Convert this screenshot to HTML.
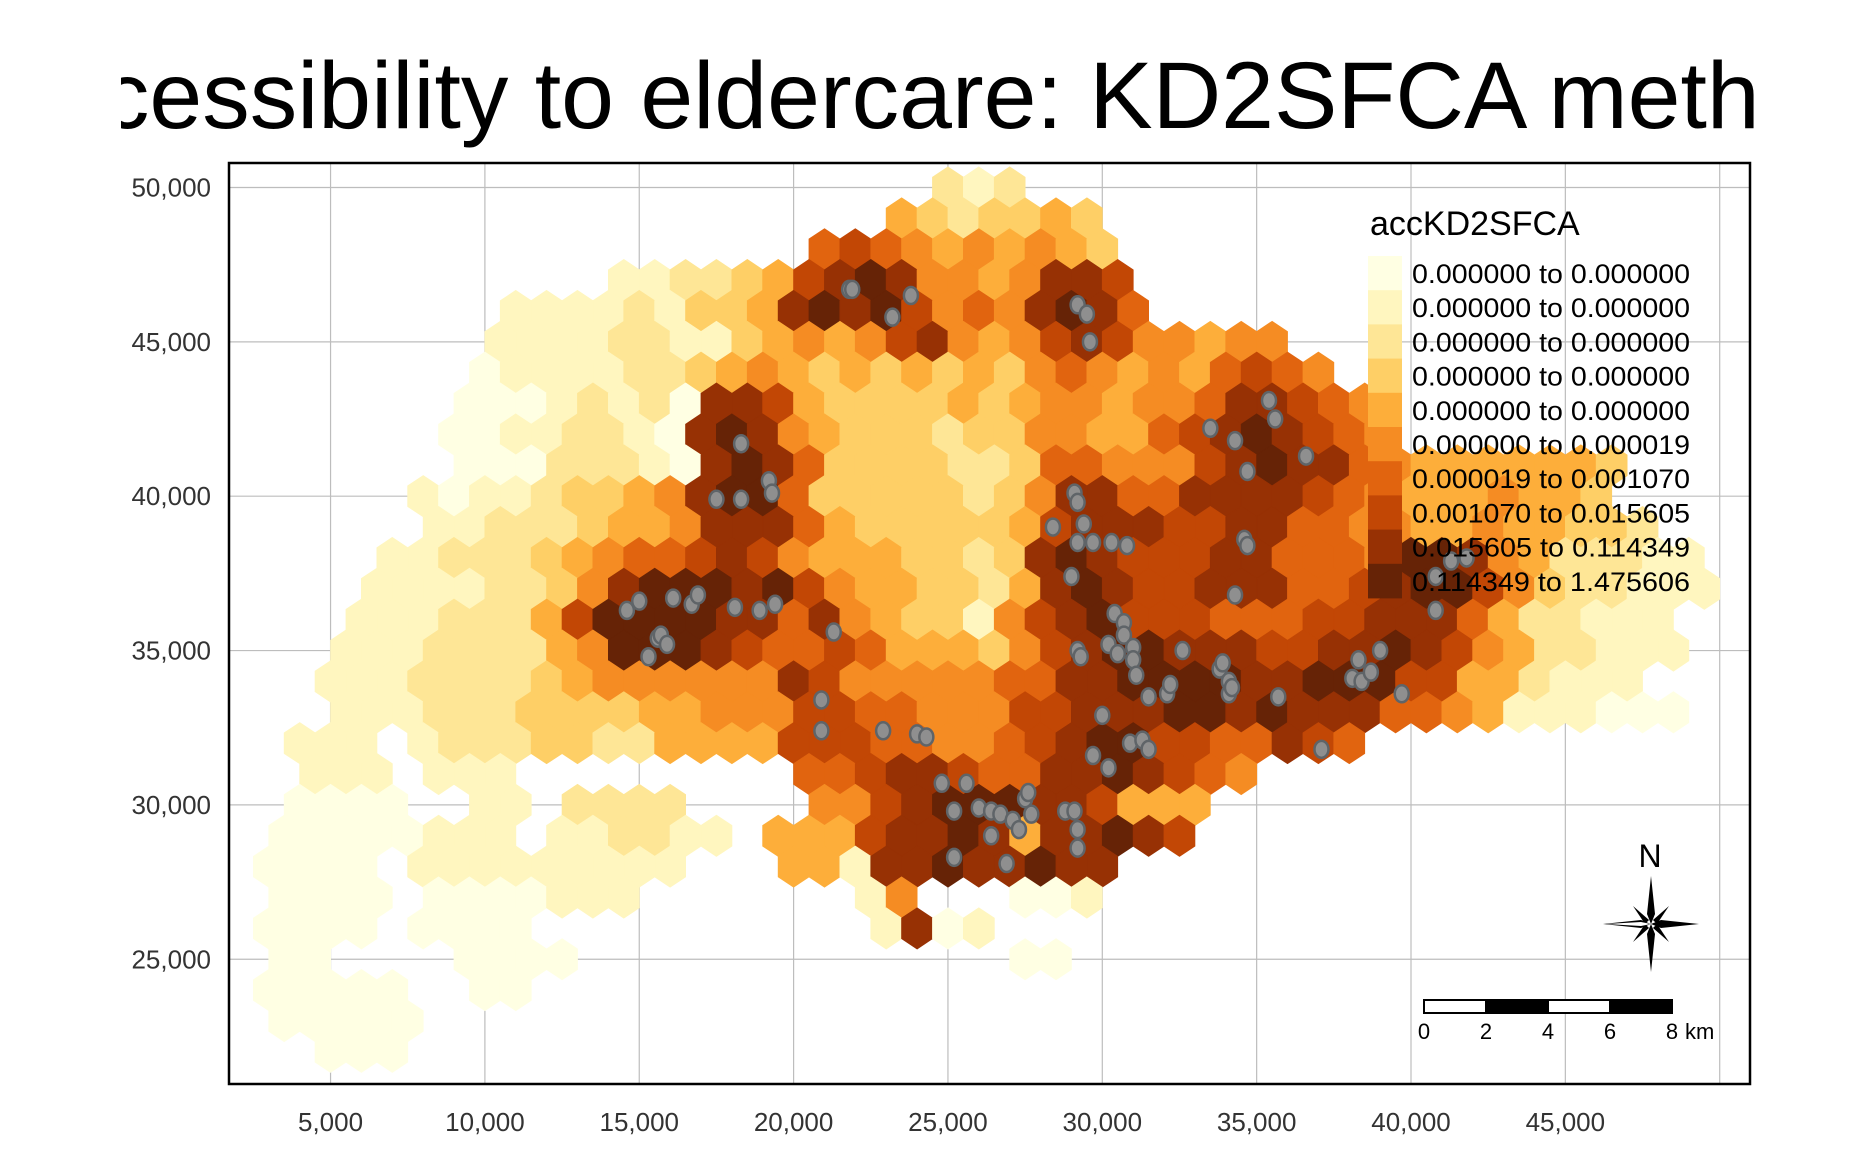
<!DOCTYPE html>
<html><head><meta charset="utf-8"><style>
html,body{margin:0;padding:0;background:#fff;}
svg text{font-family:"Liberation Sans",Arial,sans-serif;}
</style></head><body>
<svg id="chart" xmlns="http://www.w3.org/2000/svg" width="1872" height="1152" viewBox="0 0 1872 1152">
<defs>
<clipPath id="titleClip"><rect x="121" y="0" width="1635" height="160"/></clipPath>
<clipPath id="panelClip"><rect x="229" y="163" width="1521" height="921"/></clipPath>
</defs>
<g clip-path="url(#titleClip)"><text x="-9" y="128" font-size="95" fill="#000">Accessibility to eldercare: KD2SFCA method</text></g>
<g id="grid"></g>
<g id="hexes" clip-path="url(#panelClip)"></g>
<g id="points"></g>
<rect x="229" y="163" width="1521" height="921" fill="none" stroke="#000" stroke-width="2.5"/>
<g id="xaxis"></g>
<g id="yaxis"></g>
<g id="legend">
<text x="1370" y="235" font-size="34" fill="#000">accKD2SFCA</text>
</g>
<g transform="translate(-7,-4)">
<text x="1657" y="871" font-size="32" text-anchor="middle" fill="#000">N</text>
<polygon points="1658,880 1662,918 1658,928 1654,918" fill="#000"/>
<polygon points="1658,976 1662,938 1658,928 1654,938" fill="#000"/>
<polygon points="1610,928 1648,924 1658,928 1648,932" fill="#000"/>
<polygon points="1706,928 1668,924 1658,928 1668,932" fill="#000"/>
<polygon points="1640,910 1656,924 1652,928" fill="#000"/>
<polygon points="1676,910 1660,924 1664,928" fill="#000"/>
<polygon points="1640,946 1656,932 1652,928" fill="#000"/>
<polygon points="1676,946 1660,932 1664,928" fill="#000"/>
<polygon points="1613,928 1648,926 1658,928 1648,930" fill="#fff"/>
</g>
<g transform="translate(-7,-2)">
<rect x="1431" y="1002" width="62" height="13" fill="#fff" stroke="#000" stroke-width="2"/>
<rect x="1493" y="1002" width="62" height="13" fill="#000" stroke="#000" stroke-width="2"/>
<rect x="1555" y="1002" width="62" height="13" fill="#fff" stroke="#000" stroke-width="2"/>
<rect x="1617" y="1002" width="62" height="13" fill="#000" stroke="#000" stroke-width="2"/>
<text x="1431" y="1041" font-size="22" text-anchor="middle">0</text>
<text x="1493" y="1041" font-size="22" text-anchor="middle">2</text>
<text x="1555" y="1041" font-size="22" text-anchor="middle">4</text>
<text x="1617" y="1041" font-size="22" text-anchor="middle">6</text>
<text x="1679" y="1041" font-size="22" text-anchor="middle">8</text>
<text x="1692" y="1041" font-size="22">km</text>
</g>
</svg>
<script>
const classLabels = ["0.000000 to 0.000000","0.000000 to 0.000000","0.000000 to 0.000000","0.000000 to 0.000000","0.000000 to 0.000000","0.000000 to 0.000019","0.000019 to 0.001070","0.001070 to 0.015605","0.015605 to 0.114349","0.114349 to 1.475606"];
const classColors = ["#FFFFE3","#FFF6BF","#FEE696","#FECF66","#FDAE3A","#F58C23","#E1640F","#C24705","#973104","#662306"];
const xTicks = [5000,10000,15000,20000,25000,30000,35000,40000,45000];
const xGrid = [5000,10000,15000,20000,25000,30000,35000,40000,45000,50000];
const yTicks = [25000,30000,35000,40000,45000,50000];
const hexX0 = 3000;
const hexStep = 1000;
const hexRowsY = [50000,49000,48000,47000,46000,45000,44000,43000,42000,41000,40000,39000,38000,37000,36000,35000,34000,33000,32000,31000,30000,29000,28000,27000,26000,25000,24000,23000,22000];
const hexRows = [
"......................212......................",
"....................4323343....................",
"..................6765454543...................",
"...........11223478985545887...................",
"........111121334898975658986..................",
".......11112211345457854578755455..............",
".......0111122345434343435654546765............",
"......000121208874333343455455688765...........",
"......0011221089854333233554467898765..........",
"......00022210898633332236655578988654444443...",
".....101123345899633333235886688887654445443...",
".....1122234458886433333478887788665544544332..",
"....1122234566787544433238987778866659985422211",
"...11112235899989754433248987788866789975322111",
"...1112224799998868543315789777666778886422111.",
"..11122224599987667644435789988877889875422111.",
"..1112222345555558755555668899998899977442111..",
"..11122233334455577665557788899898886654111000.",
".111.1222332244447776655678997766876...........",
".111.111.........667887668898765...............",
".0000..11.2222....5578999887444................",
"00000111.112211.44478898488987.................",
"0000.111111111...44188988988...................",
"0000.0000111.......15...001....................",
"0000.0000...........1801.......................",
"00....0000..............00.....................",
"00000..00......................................",
"00000..........................................",
"..000.........................................."
];
const facX = [21.8,21.9,23.8,23.2,29.2,29.5,29.6,18.3,17.5,18.3,19.2,19.3,21.3,20.9,20.9,22.9,24.0,24.3,14.6,15.0,15.6,15.7,15.9,15.3,16.1,16.7,16.9,18.1,18.9,19.4,29.1,29.2,28.4,29.4,29.2,29.7,30.3,30.8,29.0,30.4,30.7,30.7,30.2,30.5,31.0,31.0,31.1,29.2,29.3,31.5,32.1,32.2,32.6,30.0,29.7,30.2,30.9,31.3,31.5,33.5,34.3,35.4,35.6,34.7,36.6,34.6,34.7,34.3,33.8,33.9,34.1,34.1,34.2,35.7,37.1,38.3,38.1,38.4,38.7,39.0,39.7,40.8,40.8,41.3,41.8,24.8,25.6,25.2,26.0,26.4,26.7,27.1,27.3,27.7,27.5,27.6,26.4,25.2,26.9,28.8,29.1,29.2,29.2];
const facY = [46.7,46.7,46.5,45.8,46.2,45.9,45.0,41.7,39.9,39.9,40.5,40.1,35.6,33.4,32.4,32.4,32.3,32.2,36.3,36.6,35.4,35.5,35.2,34.8,36.7,36.5,36.8,36.4,36.3,36.5,40.1,39.8,39.0,39.1,38.5,38.5,38.5,38.4,37.4,36.2,35.9,35.5,35.2,34.9,35.1,34.7,34.2,35.0,34.8,33.5,33.6,33.9,35.0,32.9,31.6,31.2,32.0,32.1,31.8,42.2,41.8,43.1,42.5,40.8,41.3,38.6,38.4,36.8,34.4,34.6,34.0,33.6,33.8,33.5,31.8,34.7,34.1,34.0,34.3,35.0,33.6,36.3,37.4,37.9,38.0,30.7,30.7,29.8,29.9,29.8,29.7,29.5,29.2,29.7,30.2,30.4,29.0,28.3,28.1,29.8,29.8,29.2,28.6];

const NS="http://www.w3.org/2000/svg";
const K=0.03087;
function sx(v){return 176.2+v*K;}
function sy(v){return 187.5+(50000-v)*K;}
function mk(tag,attrs,parent){const e=document.createElementNS(NS,tag);for(const k in attrs)e.setAttribute(k,attrs[k]);parent.appendChild(e);return e;}

const grid=document.getElementById('grid');
xGrid.forEach(v=>{const l=mk('line',{x1:sx(v),x2:sx(v),y1:163,y2:1084,stroke:'#bdbdbd','stroke-width':1.2},grid);

});
yTicks.forEach(v=>{const l=mk('line',{x1:229,x2:1750,y1:sy(v),y2:sy(v),stroke:'#bdbdbd','stroke-width':1.2},grid);

});

const hexG=document.getElementById('hexes');
const hw=hexStep*K/2, hh=hexStep*K/3, ht=hexStep*K*2/3;
hexRows.forEach((row,ri)=>{
  const off=(ri%2)?hexStep/2:0;
  for(let ci=0;ci<row.length;ci++){
    const ch=row[ci]; if(ch==='.')continue;
    const cx=sx(hexX0+ci*hexStep+off), cy=sy(hexRowsY[ri]);
    const p=[[cx,cy-ht],[cx+hw,cy-hh],[cx+hw,cy+hh],[cx,cy+ht],[cx-hw,cy+hh],[cx-hw,cy-hh]].map(a=>a[0].toFixed(1)+','+a[1].toFixed(1)).join(' ');
    const h=mk('polygon',{points:p,fill:classColors[+ch],stroke:classColors[+ch],'stroke-width':0.8},hexG);
    
    
  }
});

const ptG=document.getElementById('points');
facX.forEach((x,i)=>{const c=mk('ellipse',{cx:sx(x*1000),cy:sy(facY[i]*1000),rx:7,ry:8.5,fill:'#8f8f8f',stroke:'#5f6468','stroke-width':2.5},ptG);

});

const xa=document.getElementById('xaxis');
xTicks.forEach(v=>{const t=mk('text',{x:sx(v),y:1131,'font-size':26,'text-anchor':'middle',fill:'#333'},xa);t.textContent=v.toLocaleString('en-US');

});
const ya=document.getElementById('yaxis');
yTicks.forEach(v=>{const t=mk('text',{x:211,y:sy(v)+9,'font-size':26,'text-anchor':'end',fill:'#333'},ya);t.textContent=v.toLocaleString('en-US');

});

const lg=document.getElementById('legend');
classLabels.forEach((lab,i)=>{
  const y0=256+i*34.2;
  const r=mk('rect',{x:1368,y:y0,width:34,height:34.6,fill:classColors[i]},lg);
  
  
  const t=mk('text',{x:1412,y:y0+27,'font-size':27,textLength:278,lengthAdjust:'spacingAndGlyphs',fill:'#000'},lg);
  t.textContent=lab;
  
  
});
</script>
</body></html>
